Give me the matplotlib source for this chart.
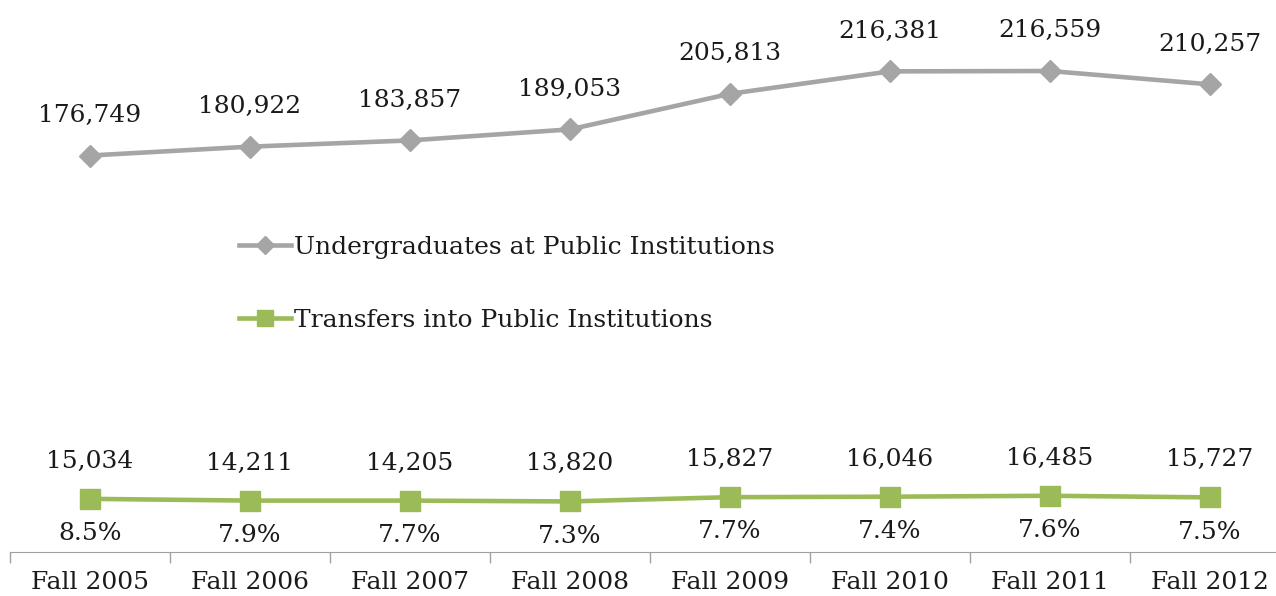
import matplotlib
matplotlib.use("Agg")
import matplotlib.pyplot as plt

years = ["Fall 2005", "Fall 2006", "Fall 2007", "Fall 2008",
         "Fall 2009", "Fall 2010", "Fall 2011", "Fall 2012"]
undergrads = [176749, 180922, 183857, 189053, 205813, 216381, 216559, 210257]
transfers = [15034, 14211, 14205, 13820, 15827, 16046, 16485, 15727]
pct_labels = ["8.5%", "7.9%", "7.7%", "7.3%", "7.7%", "7.4%", "7.6%", "7.5%"]

GRAY = "#A5A5A5"
GREEN = "#9BBB59"
TXT = "#1a1a1a"
plt.rcParams["font.family"] = "DejaVu Serif"

fig = plt.figure(figsize=(12.76, 5.96), dpi=100)
# plot area runs slightly past the right edge, like the cropped original
ax = fig.add_axes([10/1276, 44/596, 1280/1276, 552/596])
x = list(range(len(years)))

ax.plot(x, undergrads, "-D", color=GRAY, lw=3.3, ms=11.5, mec=GRAY,
        label="Undergraduates at Public Institutions")
ax.plot(x, transfers, "-s", color=GREEN, lw=3.3, ms=14.5, mec=GREEN,
        label="Transfers into Public Institutions")

fs = 18
for xi, v in zip(x, undergrads):
    ax.annotate(f"{v:,}", (xi, v), xytext=(0, 29), textcoords="offset points",
                ha="center", va="center", fontsize=fs, color=TXT)
for xi, v, p in zip(x, transfers, pct_labels):
    ax.annotate(f"{v:,}", (xi, v), xytext=(0, 27), textcoords="offset points",
                ha="center", va="center", fontsize=fs, color=TXT)
    ax.annotate(p, (xi, v), xytext=(0, -25), textcoords="offset points",
                ha="center", va="center", fontsize=fs, color=TXT)

ax.set_xlim(-0.5, len(years) - 0.5)
ax.set_ylim(-10000, 250000)
ax.set_xticks([i - 0.5 for i in range(len(years) + 1)])
ax.set_xticklabels([])
ax.set_xticks(x, minor=True)
ax.set_xticklabels(years, minor=True, fontsize=18, color=TXT)
ax.tick_params(axis="x", which="major", length=8, color="#A0A0A0", width=1)
ax.tick_params(axis="x", which="minor", length=0, pad=14)
ax.set_yticks([])
for s in ["top", "right", "left"]:
    ax.spines[s].set_visible(False)
ax.spines["bottom"].set_color("#A0A0A0")

leg = ax.legend(loc="upper left", bbox_to_anchor=(219/1280, 1 - 226/552),
                frameon=False, fontsize=18, handlelength=2.1,
                handletextpad=0.1, labelspacing=2.0, borderaxespad=0)
for t in leg.get_texts():
    t.set_color(TXT)
for h in leg.legend_handles:
    h.set_markersize(h.get_markersize() * 0.8)

fig.savefig("out.png", dpi=100)
